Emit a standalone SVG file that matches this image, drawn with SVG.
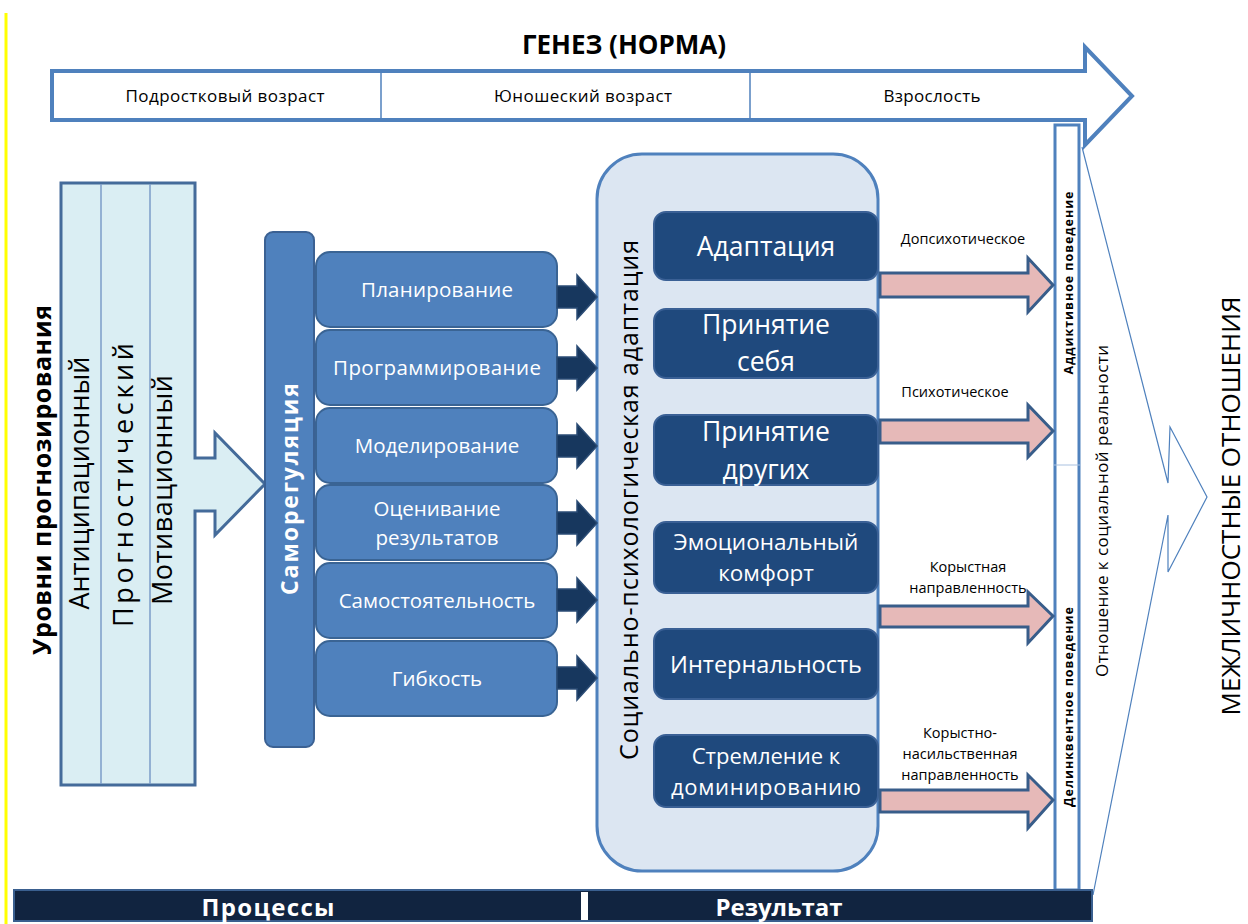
<svg xmlns="http://www.w3.org/2000/svg" width="1248" height="924" viewBox="0 0 1248 924">
<style>
text{font-family:"Open Sans","Liberation Sans",sans-serif;}
.c{text-anchor:middle}
.b{font-weight:bold}
.w{fill:#ffffff}
.proc{fill:#4F81BD;stroke:#3A6494;stroke-width:2}
.res{fill:#1F497D;stroke:#3A6095;stroke-width:2}
.darr{fill:#17375E;stroke:#2B4C75;stroke-width:1.5}
.parr{fill:#E6B9B8;stroke:#385D8A;stroke-width:3}
</style>
<rect x="0" y="0" width="1248" height="924" fill="#ffffff"/>
<line x1="6" y1="13" x2="6" y2="924" stroke="#FFFF00" stroke-width="3"/>

<g id="genez">
<text x="624" y="54" class="c b" font-size="26">ГЕНЕЗ (НОРМА)</text>
<path d="M52,71 L1085,71 L1085,47 L1132,96 L1085,145 L1085,120 L52,120 Z" fill="#ffffff" stroke="#4F81BD" stroke-width="4"/>
<line x1="381" y1="72" x2="381" y2="119" stroke="#4F81BD" stroke-width="1.5"/>
<line x1="750" y1="72" x2="750" y2="119" stroke="#4F81BD" stroke-width="1.5"/>
<text x="225" y="102" class="c" font-size="17" textLength="199">Подростковый возраст</text>
<text x="583" y="102" class="c" font-size="17" textLength="178">Юношеский возраст</text>
<text x="932" y="102" class="c" font-size="17" textLength="97">Взрослость</text>
</g>

<g id="levels">
<path d="M61,183 L195,183 L195,458 L215,458 L215,433 L265,484 L215,535 L215,511 L195,511 L195,785 L61,785 Z" fill="#DAEEF3" stroke="#446B9A" stroke-width="3"/>
<line x1="101" y1="184" x2="101" y2="784" stroke="#7B9DC9" stroke-width="1.5"/>
<line x1="150" y1="184" x2="150" y2="784" stroke="#7B9DC9" stroke-width="1.5"/>
<text transform="translate(51,480) rotate(-90)" class="c b" font-size="25" textLength="350">Уровни прогнозирования</text>
<text transform="translate(89,483) rotate(-90)" class="c" font-size="27" textLength="253">Антиципационный</text>
<text transform="translate(133,485) rotate(-90)" class="c" font-size="27" textLength="284">Прогностический</text>
<text transform="translate(172,490) rotate(-90)" class="c" font-size="27" textLength="230">Мотивационный</text>
</g>

<g id="samoreg">
<rect x="265" y="232" width="49" height="515" rx="8" fill="#4F81BD" stroke="#3B6193" stroke-width="2"/>
<text transform="translate(298,489) rotate(-90)" class="c b w" font-size="23" textLength="212">Саморегуляция</text>
</g>

<g id="processes">
<g id="p1"><rect x="316" y="252" width="241" height="75" rx="14" class="proc"/><text x="437" y="297" class="c w" font-size="20.5" textLength="152">Планирование</text></g>
<g id="p2"><rect x="316" y="330" width="241" height="75" rx="14" class="proc"/><text x="437" y="375" class="c w" font-size="20.5" textLength="208">Программирование</text></g>
<g id="p3"><rect x="316" y="408" width="241" height="75" rx="14" class="proc"/><text x="437" y="453" class="c w" font-size="20.5">Моделирование</text></g>
<g id="p4"><rect x="316" y="485" width="241" height="75" rx="14" class="proc"/><text x="437" y="516" class="c w" font-size="20.5">Оценивание</text><text x="437" y="545" class="c w" font-size="20.5">результатов</text></g>
<g id="p5"><rect x="316" y="563" width="241" height="75" rx="14" class="proc"/><text x="437" y="608" class="c w" font-size="20.5">Самостоятельность</text></g>
<g id="p6"><rect x="316" y="641" width="241" height="75" rx="14" class="proc"/><text x="437" y="686" class="c w" font-size="20.5">Гибкость</text></g>
</g>

<g id="adaptation">
<rect x="597" y="154" width="281" height="717" rx="45" fill="#DCE6F2" stroke="#4F81BD" stroke-width="3"/>
<text transform="translate(638,500) rotate(-90)" class="c" font-size="25" textLength="520">Социально-психологическая адаптация</text>
</g>

<g id="results">
<g id="r1"><rect x="654" y="212" width="224" height="68" rx="12" class="res"/><text x="766" y="256" class="c w" font-size="26.5">Адаптация</text></g>
<g id="r2"><rect x="654" y="309" width="224" height="69" rx="12" class="res"/><text x="766" y="334" class="c w" font-size="26.5">Принятие</text><text x="766" y="371" class="c w" font-size="26.5">себя</text></g>
<g id="r3"><rect x="654" y="415" width="224" height="70" rx="12" class="res"/><text x="766" y="441" class="c w" font-size="26.5">Принятие</text><text x="766" y="479" class="c w" font-size="26.5">других</text></g>
<g id="r4"><rect x="654" y="522" width="224" height="71" rx="12" class="res"/><text x="766" y="550" class="c w" font-size="22.5">Эмоциональный</text><text x="766" y="581" class="c w" font-size="22.5">комфорт</text></g>
<g id="r5"><rect x="654" y="629" width="224" height="70" rx="12" class="res"/><text x="766" y="673" class="c w" font-size="23.5">Интернальность</text></g>
<g id="r6"><rect x="654" y="735" width="224" height="72" rx="12" class="res"/><text x="766" y="764" class="c w" font-size="22">Стремление к</text><text x="766" y="795" class="c w" font-size="22" textLength="190">доминированию</text></g>
</g>

<g id="behavior">
<rect x="1055" y="125" width="24" height="765" fill="#ffffff" stroke="#4F81BD" stroke-width="3"/>
<line x1="1054" y1="465" x2="1081" y2="465" stroke="#A9C1E0" stroke-width="1"/>
<text transform="translate(1073,283) rotate(-90)" class="c b" font-size="12.5" textLength="183">Аддиктивное поведение</text>
<text transform="translate(1073,707) rotate(-90)" class="c b" font-size="12.5" textLength="200">Делинквентное поведение</text>
</g>

<g id="relation">
<text transform="translate(1108,511) rotate(-90)" class="c" font-size="17" textLength="332">Отношение к социальной реальности</text>
</g>

<g id="interpersonal">
<path d="M1082,147 L1168,483 L1170,427 L1207,497 L1168,572 L1168,515 L1093,895" fill="none" stroke="#4F81BD" stroke-width="1.2"/>
<text transform="translate(1240,506) rotate(-90)" class="c" font-size="26">МЕЖЛИЧНОСТНЫЕ ОТНОШЕНИЯ</text>
</g>

<g id="connectors">
<path class="darr" d="M557,286 L577,286 L577,275 L597,297 L577,319 L577,308 L557,308 Z"/>
<path class="darr" d="M557,357 L577,357 L577,346 L597,368 L577,390 L577,379 L557,379 Z"/>
<path class="darr" d="M557,435 L577,435 L577,424 L597,446 L577,468 L577,457 L557,457 Z"/>
<path class="darr" d="M557,512 L577,512 L577,501 L597,523 L577,545 L577,534 L557,534 Z"/>
<path class="darr" d="M557,589 L577,589 L577,578 L597,600 L577,622 L577,611 L557,611 Z"/>
<path class="darr" d="M557,667 L577,667 L577,656 L597,678 L577,700 L577,689 L557,689 Z"/>
<path class="parr" d="M880,273 L1028,273 L1028,258 L1053,285 L1028,312 L1028,297 L880,297 Z"/>
<path class="parr" d="M880,420 L1028,420 L1028,405 L1053,431 L1028,457 L1028,443 L880,443 Z"/>
<path class="parr" d="M880,606 L1028,606 L1028,592 L1053,616 L1028,643 L1028,627 L880,627 Z"/>
<path class="parr" d="M880,790 L1028,790 L1028,775 L1053,800 L1028,828 L1028,812 L880,812 Z"/>
<text x="963" y="244" class="c" font-size="14.5">Допсихотическое</text>
<text x="955" y="397" class="c" font-size="14.5">Психотическое</text>
<text x="968" y="572" class="c" font-size="14.5">Корыстная</text>
<text x="968" y="593" class="c" font-size="14.5">направленность</text>
<text x="960" y="738" class="c" font-size="14.5">Корыстно-</text>
<text x="960" y="759" class="c" font-size="14.5">насильственная</text>
<text x="960" y="780" class="c" font-size="14.5">направленность</text>
</g>

<g id="footer">
<rect x="14" y="890" width="1078" height="31" fill="#112440" stroke="#3A5F8F" stroke-width="2"/>
<rect x="581" y="892" width="7" height="28" fill="#ffffff"/>
<text x="268" y="916" class="c b w" font-size="24" textLength="133">Процессы</text>
<text x="779" y="916" class="c b w" font-size="24" textLength="127">Результат</text>
</g>
</svg>
